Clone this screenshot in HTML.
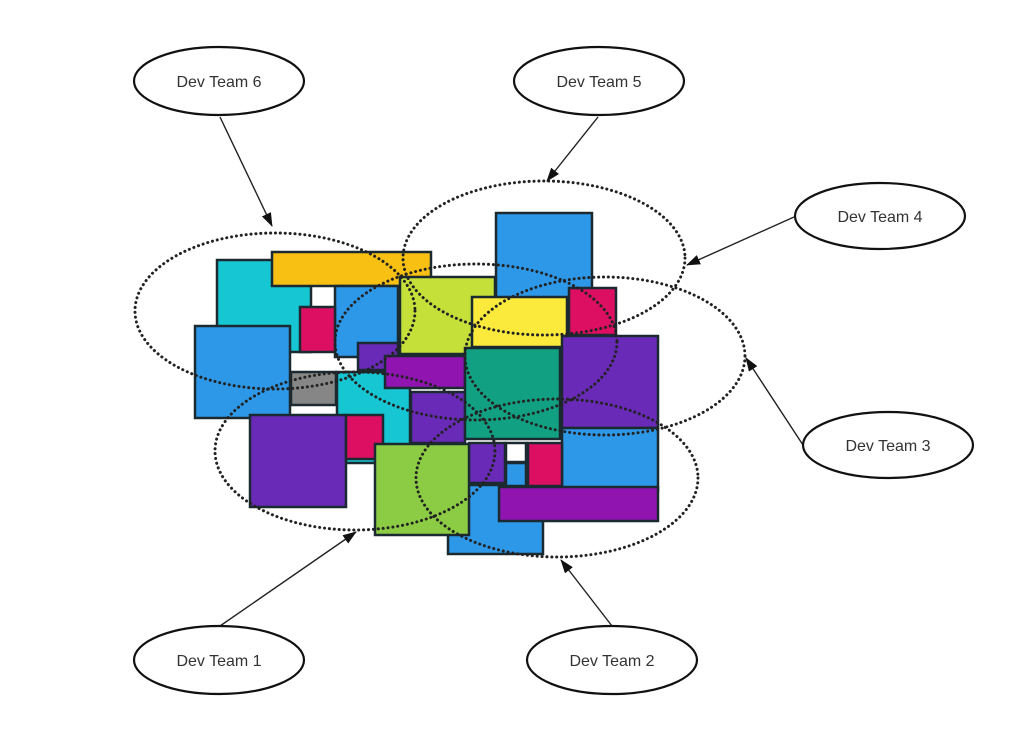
<!DOCTYPE html>
<html><head><meta charset="utf-8"><style>
html,body{margin:0;padding:0;background:#fff;width:1024px;height:751px;overflow:hidden}
text{font-family:"Liberation Sans",sans-serif;font-size:16px;fill:#333}
</style></head><body>
<svg width="1024" height="751" viewBox="0 0 1024 751" xmlns="http://www.w3.org/2000/svg">
<defs><marker id="a" viewBox="0 0 14 10" refX="13" refY="5" markerWidth="14" markerHeight="10" orient="auto" markerUnits="userSpaceOnUse"><path d="M0,0 L14,5 L0,10 z" fill="#111"/></marker></defs>
<g stroke="#1a2a30" stroke-width="2.5">
<rect x="217" y="260" width="94" height="92" fill="#16c6d2"/>
<rect x="272" y="252" width="159" height="34" fill="#f7c012"/>
<rect x="335" y="286" width="63" height="71" fill="#2e98e8"/>
<rect x="300" y="307" width="35" height="45" fill="#dd0f63"/>
<rect x="195" y="326" width="95" height="92" fill="#2e98e8"/>
<rect x="291" y="372" width="45" height="33" fill="#868686"/>
<rect x="337" y="372" width="73" height="91" fill="#16c6d2"/>
<rect x="358" y="343" width="40" height="27" fill="#6a2ab8"/>
<rect x="400" y="277" width="95" height="77" fill="#c6e03a"/>
<rect x="496" y="213" width="96" height="91" fill="#2e98e8"/>
<rect x="472" y="297" width="95" height="50" fill="#fbea3c"/>
<rect x="569" y="288" width="47" height="47" fill="#dd0f63"/>
<rect x="385" y="356" width="80" height="32" fill="#9014b0"/>
<rect x="411" y="392" width="54" height="51" fill="#6a2ab8"/>
<rect x="465" y="348" width="95" height="91" fill="#12a082"/>
<rect x="562" y="336" width="96" height="92" fill="#6a2ab8"/>
<rect x="562" y="428" width="96" height="63" fill="#2e98e8"/>
<rect x="448" y="485" width="95" height="69" fill="#2e98e8"/>
<rect x="499" y="487" width="159" height="34" fill="#9014b0"/>
<rect x="469" y="443" width="36" height="40" fill="#6a2ab8"/>
<rect x="506" y="443" width="20" height="19" fill="#fff"/>
<rect x="506" y="463" width="20" height="23" fill="#2e98e8"/>
<rect x="528" y="443" width="34" height="43" fill="#dd0f63"/>
<rect x="250" y="415" width="96" height="92" fill="#6a2ab8"/>
<rect x="346" y="415" width="37" height="44" fill="#dd0f63"/>
<rect x="375" y="444" width="94" height="91" fill="#8ccc44"/>
</g>
<g fill="none" stroke="#222" stroke-width="3" stroke-dasharray="0.1 4.8" stroke-linecap="round">
<ellipse cx="275" cy="311" rx="140" ry="78"/>
<ellipse cx="544" cy="258" rx="141" ry="77"/>
<ellipse cx="476" cy="342" rx="141" ry="78"/>
<ellipse cx="605" cy="356" rx="140" ry="79"/>
<ellipse cx="355" cy="451" rx="140" ry="79"/>
<ellipse cx="557" cy="478" rx="141" ry="79"/>
</g>
<g stroke="#222" stroke-width="1.4" marker-end="url(#a)">
<line x1="220" y1="117" x2="272" y2="226"/>
<line x1="598" y1="117" x2="547" y2="181"/>
<line x1="794" y1="217" x2="687" y2="265"/>
<line x1="803" y1="445" x2="746" y2="358"/>
<line x1="220" y1="626" x2="356" y2="532"/>
<line x1="612" y1="626" x2="561" y2="560"/>
</g>
<g fill="#fff" stroke="#111" stroke-width="2.2">
<ellipse cx="219" cy="81" rx="85" ry="34"/>
<ellipse cx="599" cy="81" rx="85" ry="34"/>
<ellipse cx="880" cy="216" rx="85" ry="33"/>
<ellipse cx="888" cy="445" rx="85" ry="33"/>
<ellipse cx="219" cy="660" rx="85" ry="34"/>
<ellipse cx="612" cy="660" rx="85" ry="34"/>
</g>
<g text-anchor="middle">
<text x="219" y="87">Dev Team 6</text>
<text x="599" y="87">Dev Team 5</text>
<text x="880" y="222">Dev Team 4</text>
<text x="888" y="451">Dev Team 3</text>
<text x="219" y="666">Dev Team 1</text>
<text x="612" y="666">Dev Team 2</text>
</g>
</svg>
</body></html>
